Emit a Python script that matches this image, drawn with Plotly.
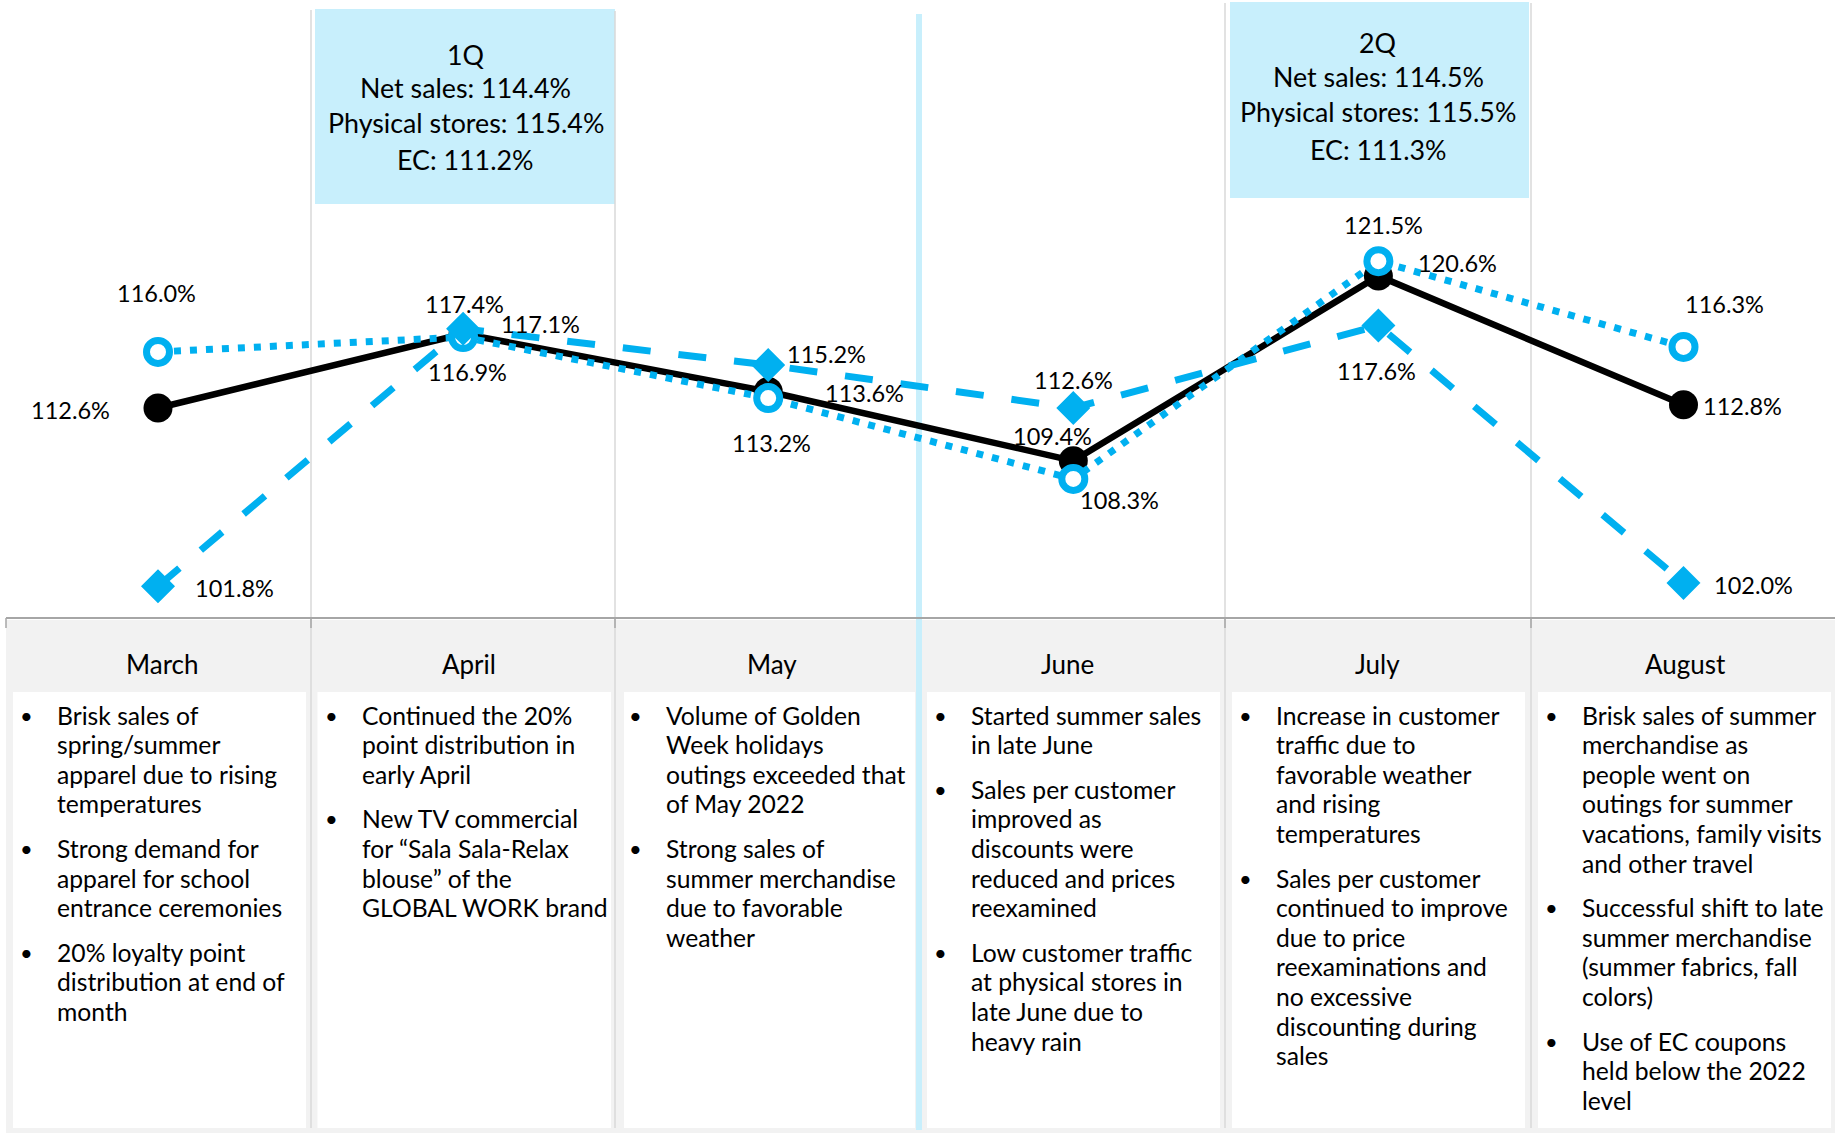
import plotly.graph_objects as go

W, H = 1835, 1133

# ---------------- data ----------------
months = ["March", "April", "May", "June", "July", "August"]
net_sales = [112.6, 117.1, 113.6, 109.4, 120.6, 112.8]
physical_stores = [116.0, 116.9, 113.2, 108.3, 121.5, 116.3]
ec_sales = [101.8, 117.4, 115.2, 112.6, 117.6, 102.0]

quarters = ["1Q", "2Q"]
q_net = [114.4, 114.5]
q_physical = [115.4, 115.5]
q_ec = [111.2, 111.3]

march_notes = [["Brisk sales of", "spring/summer", "apparel due to rising", "temperatures"],
               ["Strong demand for", "apparel for school", "entrance ceremonies"],
               ["20% loyalty point", "distribution at end of", "month"]]
april_notes = [["Continued the 20%", "point distribution in", "early April"],
               ["New TV commercial", "for \u201cSala Sala-Relax", "blouse\u201d of the", "GLOBAL WORK brand"]]
may_notes = [["Volume of Golden", "Week holidays", "outings exceeded that", "of May 2022"],
             ["Strong sales of", "summer merchandise", "due to favorable", "weather"]]
june_notes = [["Started summer sales", "in late June"],
              ["Sales per customer", "improved as", "discounts were", "reduced and prices", "reexamined"],
              ["Low customer traffic", "at physical stores in", "late June due to", "heavy rain"]]
july_notes = [["Increase in customer", "traffic due to", "favorable weather", "and rising", "temperatures"],
              ["Sales per customer", "continued to improve", "due to price", "reexaminations and",
               "no excessive", "discounting during", "sales"]]
august_notes = [["Brisk sales of summer", "merchandise as", "people went on", "outings for summer",
                 "vacations, family visits", "and other travel"],
                ["Successful shift to late", "summer merchandise", "(summer fabrics, fall", "colors)"],
                ["Use of EC coupons", "held below the 2022", "level"]]
month_notes = [march_notes, april_notes, may_notes, june_notes, july_notes, august_notes]

# ---------------- styles / layout ----------------
FONT = "Lato, 'Open Sans', sans-serif"
BLUE = "#00b0f0"
LIGHT_BLUE = "#c8effc"
GRID = "#d9d9d9"
TABLE_BG = "#f2f2f2"

# pixel geometry of the plot scale
X0_PX, DX_PX = 158.0, 305.1          # centre of first month, spacing
Y_REF_VAL, Y_REF_PX, PX_PER_UNIT = 112.6, 408.0, 16.5
x_range = [-X0_PX / DX_PX, (W - X0_PX) / DX_PX]
y_range = [Y_REF_VAL - (H - Y_REF_PX) / PX_PER_UNIT, Y_REF_VAL + Y_REF_PX / PX_PER_UNIT]

# label offsets in px (dx right, dy down) from each marker
net_off = [(-88, 2), (77, -10), (96, 1), (-21, -25), (79, -13), (59, 1)]
phys_off = [(-2, -59), (4, 35), (3, 45), (46, 21), (5, -36), (41, -43)]
ec_off = [(76, 2), (1, -25), (58, -11), (0, -28), (-2, 45), (70, 2)]


def px(x):
    return x / W


def py(y):
    return 1 - y / H


fig = go.Figure()
xi = list(range(len(months)))

fig.add_trace(go.Scatter(
    x=xi, y=net_sales, mode="lines+markers", name="Net sales",
    line=dict(color="black", width=6.5),
    marker=dict(symbol="circle", size=29, color="black"),
    cliponaxis=False))
fig.add_trace(go.Scatter(
    x=xi, y=physical_stores, mode="lines+markers", name="Physical stores",
    line=dict(color=BLUE, width=7, dash="7px,9px"),
    marker=dict(symbol="circle", size=23, color="white", line=dict(color=BLUE, width=7)),
    cliponaxis=False))
fig.add_trace(go.Scatter(
    x=xi, y=ec_sales, mode="lines+markers", name="EC",
    line=dict(color=BLUE, width=7, dash="28px,28px"),
    marker=dict(symbol="diamond", size=24, color=BLUE, line=dict(color=BLUE, width=2)),
    cliponaxis=False))

annotations = []
for series, offs in ((net_sales, net_off), (physical_stores, phys_off), (ec_sales, ec_off)):
    for i, v in enumerate(series):
        dx, dy = offs[i]
        annotations.append(dict(
            x=i, y=v, xref="x", yref="y", text=f"{v:.1f}%", showarrow=False,
            xshift=dx, yshift=-dy, xanchor="center", yanchor="middle",
            font=dict(family=FONT, size=23.5, color="black")))

shapes = []
# table background
shapes.append(dict(type="rect", xref="paper", yref="paper", x0=px(6), x1=px(W), y0=py(620), y1=py(H),
                   fillcolor=TABLE_BG, line=dict(width=0), layer="below"))
# white note boxes
box_x = [(13, 306), (317.5, 611), (624, 915), (927, 1220), (1232, 1525), (1538, 1831)]
for (a, b) in box_x:
    shapes.append(dict(type="rect", xref="paper", yref="paper", x0=px(a), x1=px(b), y0=py(692), y1=py(1128),
                       fillcolor="white", line=dict(width=0), layer="below"))
# quarter boxes
q_boxes = [(315, 615, 9, 204), (1230, 1529, 2, 198)]
for (a, b, t, btm) in q_boxes:
    shapes.append(dict(type="rect", xref="paper", yref="paper", x0=px(a), x1=px(b), y0=py(btm), y1=py(t),
                       fillcolor=LIGHT_BLUE, line=dict(width=0), layer="below"))
# quarter separator bar
shapes.append(dict(type="rect", xref="paper", yref="paper", x0=px(916), x1=px(922), y0=py(1130), y1=py(14),
                   fillcolor=LIGHT_BLUE, line=dict(width=0), layer="below"))
# column dividers
for (x, top) in ((311, 10), (615, 11), (1225, 3), (1531, 3)):
    shapes.append(dict(type="line", xref="paper", yref="paper", x0=px(x), x1=px(x), y0=py(top), y1=py(1128),
                       line=dict(color=GRID, width=1.5), layer="below"))
# baseline and ticks
shapes.append(dict(type="line", xref="paper", yref="paper", x0=px(6), x1=px(W), y0=py(618), y1=py(618),
                   line=dict(color="#a6a6a6", width=2), layer="below"))
for x in (6, 311, 615, 1225, 1531):
    shapes.append(dict(type="line", xref="paper", yref="paper", x0=px(x), x1=px(x), y0=py(618), y1=py(628),
                       line=dict(color="#a6a6a6", width=1.5), layer="below"))

# quarter box text
q_centers = [465.8, 1378]
q_line_y = [(55, 88, 123.5, 160), (43, 77, 111.5, 149.5)]
for k, q in enumerate(quarters):
    lines = [q, f"Net sales: {q_net[k]:.1f}%", f"Physical stores: {q_physical[k]:.1f}%", f"EC: {q_ec[k]:.1f}%"]
    for t, yy in zip(lines, q_line_y[k]):
        annotations.append(dict(x=px(q_centers[k]), y=py(yy), xref="paper", yref="paper", text=t,
                                showarrow=False, xanchor="center", yanchor="middle",
                                font=dict(family=FONT, size=26.8, color="black")))

# month headers and notes
col_start = [6, 311, 615, 920, 1225, 1531]
header_x = [162, 468.5, 772, 1067, 1377, 1685]
LINE_STEP, BULLET_GAP, FIRST_Y = 29.6, 15.0, 715.0
for m, name in enumerate(months):
    annotations.append(dict(x=px(header_x[m]), y=py(664), xref="paper", yref="paper", text=name,
                            showarrow=False, xanchor="center", yanchor="middle",
                            font=dict(family=FONT, size=26, color="black")))
    yy = FIRST_Y
    for bullet in month_notes[m]:
        annotations.append(dict(x=px(col_start[m] + 20), y=py(yy), xref="paper", yref="paper", text="\u2022",
                                showarrow=False, xanchor="center", yanchor="middle",
                                font=dict(family=FONT, size=22, color="black")))
        for line in bullet:
            annotations.append(dict(x=px(col_start[m] + 48.5), y=py(yy), xref="paper", yref="paper",
                                    text=line, showarrow=False, xanchor="left", yanchor="middle",
                                    font=dict(family=FONT, size=24.7, color="black")))
            yy += LINE_STEP
        yy += BULLET_GAP

fig.update_layout(
    width=W, height=H, margin=dict(l=0, r=0, t=0, b=0),
    paper_bgcolor="white", plot_bgcolor="white", showlegend=False,
    xaxis=dict(range=x_range, visible=False, fixedrange=True),
    yaxis=dict(range=y_range, visible=False, fixedrange=True),
    shapes=shapes, annotations=annotations,
)

fig.write_html("out.html")
